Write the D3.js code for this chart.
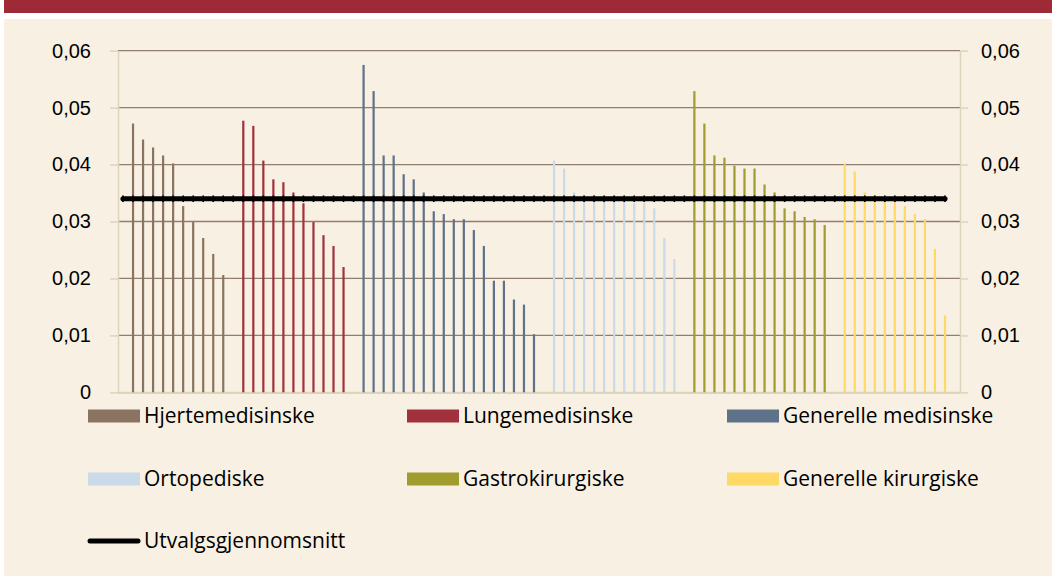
<!DOCTYPE html>
<html>
<head>
<meta charset="utf-8">
<script src="https://cdn.jsdelivr.net/npm/d3@7"></script>
<style>
  body { margin: 0; background: #fff; }
  svg { display: block; font-family: "Open Sans", sans-serif; }
</style>
</head>
<body>
<svg id="chart" width="1052" height="576"></svg>
<script>
// values, sorted high to low inside each group
const hjertemedisinske = [0.0472, 0.0444, 0.0430, 0.0416, 0.0402, 0.0327, 0.0299, 0.0271, 0.0243, 0.0206]
const lungemedisinske = [0.0477, 0.0468, 0.0407, 0.0374, 0.0369, 0.0351, 0.0332, 0.0299, 0.0276, 0.0257, 0.0220]
const generelleMedisinske = [0.0575, 0.0529, 0.0416, 0.0416, 0.0383, 0.0374, 0.0351, 0.0318, 0.0313, 0.0304,
  0.0304, 0.0285, 0.0257, 0.0196, 0.0196, 0.0163, 0.0154, 0.0102]
const ortopediske = [0.0407, 0.0393, 0.0351, 0.0346, 0.0346, 0.0337, 0.0337, 0.0335, 0.0332, 0.0332, 0.0323, 0.0271, 0.0234]
const gastrokirurgiske = [0.0529, 0.0472, 0.0416, 0.0412, 0.0398, 0.0393, 0.0393, 0.0365, 0.0351, 0.0323,
  0.0318, 0.0308, 0.0304, 0.0294]
const generelleKirurgiske = [0.0402, 0.0388, 0.0351, 0.0337, 0.0337, 0.0337, 0.0327, 0.0313, 0.0304, 0.0252, 0.0135]
const utvalgsgjennomsnitt = 0.034

const yTicks = [0, 0.01, 0.02, 0.03, 0.04, 0.05, 0.06]

const series = [
  { name: "Hjertemedisinske", values: hjertemedisinske, color: "#8a7461" },
  { name: "Lungemedisinske", values: lungemedisinske, color: "#a1313c" },
  { name: "Generelle medisinske", values: generelleMedisinske, color: "#5e728a" },
  { name: "Ortopediske", values: ortopediske, color: "#cadae8" },
  { name: "Gastrokirurgiske", values: gastrokirurgiske, color: "#a09c2e" },
  { name: "Generelle kirurgiske", values: generelleKirurgiske, color: "#ffd966" }
]

// one category per bar, an empty one at the start, between groups and at the end
const slots = ["start"]
const bars = []
series.forEach((s, si) => {
  if (si > 0) slots.push(`gap-${si}`)
  s.values.forEach((v, i) => {
    const id = `${si}-${i}`
    slots.push(id)
    bars.push({ slot: id, value: v, color: s.color })
  })
})
const avgSlots = slots.slice()
slots.push("end")

const svg = d3.select("#chart")

// frame: red banner, white strip, beige panel
svg.append("rect").attr("x", 4).attr("y", 0).attr("width", 1048).attr("height", 13).attr("fill", "#9e2a37")
svg.append("rect").attr("x", 4).attr("y", 19).attr("width", 1048).attr("height", 557).attr("fill", "#f8f0e2")

const plotLeft = 118, plotRight = 960, plotTop = 50.7, plotBottom = 392.3

const x = d3.scaleBand().domain(slots).range([plotLeft, plotRight]).padding(0)
const y = d3.scaleLinear().domain([0, 0.06]).range([plotBottom, plotTop])
const fmt = v => v === 0 ? "0" : d3.format(".2f")(v).replace(".", ",")

// gridlines
svg.append("g").selectAll("line")
  .data(yTicks.filter(t => t > 0)).join("line")
  .attr("x1", plotLeft).attr("x2", plotRight)
  .attr("y1", d => y(d)).attr("y2", d => y(d))
  .attr("stroke", "#8f7e6d").attr("stroke-width", 1.3)

// axes
const styleAxis = g => {
  g.select(".domain").attr("stroke", "#ddd4bb").attr("stroke-width", 1.5)
  g.selectAll(".tick line").attr("stroke", "#ddd4bb").attr("stroke-width", 1.5)
  g.selectAll(".tick text").attr("font-size", 20).attr("fill", "#000")
}
svg.append("g")
  .attr("transform", `translate(${plotLeft},0)`)
  .call(d3.axisLeft(y).tickValues(yTicks).tickFormat(fmt).tickSize(8).tickSizeOuter(0).tickPadding(19))
  .call(styleAxis)
svg.append("g")
  .attr("transform", `translate(${plotRight},0)`)
  .call(d3.axisRight(y).tickValues(yTicks).tickFormat(fmt).tickSize(8).tickSizeOuter(0).tickPadding(13))
  .call(styleAxis)
svg.append("line")
  .attr("x1", plotLeft).attr("x2", plotRight).attr("y1", plotBottom + 0.5).attr("y2", plotBottom + 0.5)
  .attr("stroke", "#ddd4bb").attr("stroke-width", 2.2)

// bars
const barW = x.bandwidth() * 0.22
svg.append("g").selectAll("rect")
  .data(bars).join("rect")
  .attr("x", d => x(d.slot) + x.bandwidth() / 2 - barW / 2)
  .attr("y", d => y(d.value))
  .attr("width", barW)
  .attr("height", d => plotBottom - y(d.value))
  .attr("fill", d => d.color)

// average line with small dash markers
const cx = s => x(s) + x.bandwidth() / 2
const line = d3.line().x(d => cx(d)).y(() => y(utvalgsgjennomsnitt))
svg.append("path").datum(avgSlots).attr("d", line)
  .attr("fill", "none").attr("stroke", "#000").attr("stroke-width", 5.2).attr("stroke-linecap", "round")
svg.append("g").selectAll("rect")
  .data(avgSlots).join("rect")
  .attr("x", d => cx(d) - 0.8).attr("y", y(utvalgsgjennomsnitt) - 3.3)
  .attr("width", 1.6).attr("height", 6.6).attr("fill", "#000")

// legend
const legendCols = [88, 407, 727]
const legendRows = [416, 479, 541]
const legend = svg.append("g").attr("font-size", 21).attr("fill", "#000")
series.forEach((s, i) => {
  const lx = legendCols[i % 3], ly = legendRows[Math.floor(i / 3)]
  legend.append("rect").attr("x", lx).attr("y", ly - 6.5).attr("width", 52).attr("height", 13).attr("fill", s.color)
  legend.append("text").attr("x", lx + 56).attr("y", ly).attr("dy", "0.35em").text(s.name)
})
legend.append("line")
  .attr("x1", legendCols[0] + 2).attr("x2", legendCols[0] + 50)
  .attr("y1", legendRows[2]).attr("y2", legendRows[2])
  .attr("stroke", "#000").attr("stroke-width", 5).attr("stroke-linecap", "round")
legend.append("text").attr("x", legendCols[0] + 56).attr("y", legendRows[2]).attr("dy", "0.35em")
  .text("Utvalgsgjennomsnitt")
</script>
</body>
</html>
